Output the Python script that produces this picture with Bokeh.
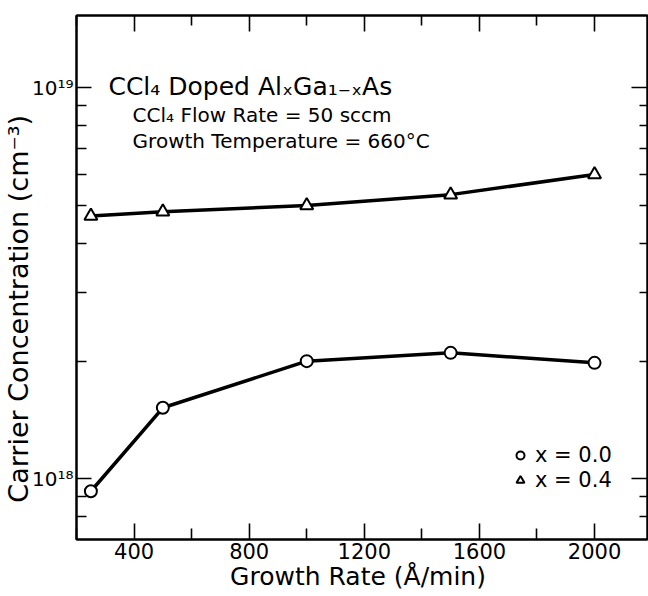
from bokeh.plotting import figure
from bokeh.models import (LogAxis, LinearAxis, FixedTicker, Range1d, Label,
                          Legend, LegendItem)
from bokeh.embed import file_html
from bokeh.resources import INLINE

# ---- data ----
growth_rate = [250, 500, 1000, 1500, 2000]            # Å/min
conc_x00 = [9.3e17, 1.52e18, 2.0e18, 2.1e18, 1.98e18]  # x = 0.0
conc_x04 = [4.7e18, 4.82e18, 5.0e18, 5.33e18, 6.0e18]  # x = 0.4
series_labels = ["x = 0.0", "x = 0.4"]

x_major_ticks = [400, 800, 1200, 1600, 2000]
x_minor_ticks = [200, 600, 1000, 1400, 1800]
y_major_ticks = [1e18, 1e19]
y_major_labels = ["10¹⁸", "10¹⁹"]
y_minor_ticks = [8e17, 9e17, 2e18, 3e18, 4e18, 5e18, 6e18, 7e18, 8e18, 9e18]

title_lines = ["CCl₄ Doped AlₓGa₁₋ₓAs",
               "CCl₄ Flow Rate = 50 sccm",
               "Growth Temperature = 660°C"]
x_label = "Growth Rate  (Å/min)"
# trailing em-spaces shift the centred label down, as in the reference
y_label = "Carrier Concentration  (cm⁻³)\u2003\u2003"

FONT = "DejaVu Sans"

p = figure(width=648, height=596, output_backend="svg", toolbar_location=None,
           y_axis_type="log",
           x_range=Range1d(200, 2184), y_range=Range1d(7e17, 1.53e19),
           x_axis_location=None, y_axis_location=None,
           min_border_left=76, min_border_right=1, min_border_top=15,
           min_border_bottom=57)
p.outline_line_color = "black"
p.outline_line_width = 2
p.background_fill_color = "white"
p.border_fill_color = "white"
p.grid.grid_line_color = None

xt = FixedTicker(ticks=x_major_ticks, minor_ticks=x_minor_ticks)
yt = FixedTicker(ticks=y_major_ticks, minor_ticks=y_minor_ticks)


def style(ax, maj, mnr):
    ax.axis_line_color = "black"
    ax.axis_line_width = 2
    ax.major_tick_in = maj
    ax.major_tick_out = 0
    ax.minor_tick_in = mnr
    ax.minor_tick_out = 0
    ax.major_tick_line_color = "black"
    ax.major_tick_line_width = 1.6
    ax.minor_tick_line_color = "black"
    ax.minor_tick_line_width = 1.6
    ax.major_label_text_font = FONT
    ax.major_label_text_color = "black"
    ax.axis_label_text_font = FONT
    ax.axis_label_text_font_style = "normal"
    ax.axis_label_text_color = "black"


def hide_labels(ax):
    ax.major_label_text_font_size = "1px"
    ax.major_label_text_color = None
    ax.major_label_standoff = 0


bottom = LinearAxis(ticker=xt, axis_label=x_label)
style(bottom, 16, 11)
bottom.major_label_text_font_size = "21px"
bottom.major_label_standoff = 3
bottom.axis_label_text_font_size = "25px"
bottom.axis_label_standoff = 0
p.add_layout(bottom, "below")

top = LinearAxis(ticker=xt)
style(top, 16, 10)
hide_labels(top)
p.add_layout(top, "above")

left = LogAxis(ticker=yt, axis_label=y_label,
               major_label_overrides=dict(zip(y_major_ticks, y_major_labels)))
style(left, 15, 10)
left.major_label_text_font_size = "20px"
left.major_label_standoff = 3
left.axis_label_text_font_size = "27px"
left.axis_label_standoff = -5
p.add_layout(left, "left")

right = LogAxis(ticker=yt)
style(right, 16, 8)
hide_labels(right)
p.add_layout(right, "right")

p.line(growth_rate, conc_x00, line_color="black", line_width=3.5)
p.line(growth_rate, conc_x04, line_color="black", line_width=3.5)
r0 = p.scatter(growth_rate, conc_x00, marker="circle", size=12,
               fill_color="white", line_color="black", line_width=2)
r1 = p.scatter(growth_rate, conc_x04, marker="triangle", size=13,
               fill_color="white", line_color="black", line_width=2)

legend = Legend(items=[LegendItem(label=series_labels[0], renderers=[r0]),
                       LegendItem(label=series_labels[1], renderers=[r1])],
                location=(434, 47), border_line_alpha=0,
                background_fill_alpha=0, label_text_font=FONT,
                label_text_color="black",
                label_text_font_size="21px", glyph_width=20, glyph_height=20,
                label_standoff=5, spacing=0, padding=0, margin=0,
                label_height=25)
p.add_layout(legend)

p.add_layout(Label(x=311, y=1.005e19, text=title_lines[0], text_font=FONT,
                   text_font_size="25px", text_baseline="alphabetic",
                   text_color="black"))
p.add_layout(Label(x=395, y=8.54e18, text=title_lines[1], text_font=FONT,
                   text_font_size="20px", text_baseline="alphabetic",
                   text_color="black"))
p.add_layout(Label(x=395, y=7.33e18, text=title_lines[2], text_font=FONT,
                   text_font_size="20px", text_baseline="alphabetic",
                   text_color="black"))

open("out.html", "w").write(file_html(p, INLINE))
